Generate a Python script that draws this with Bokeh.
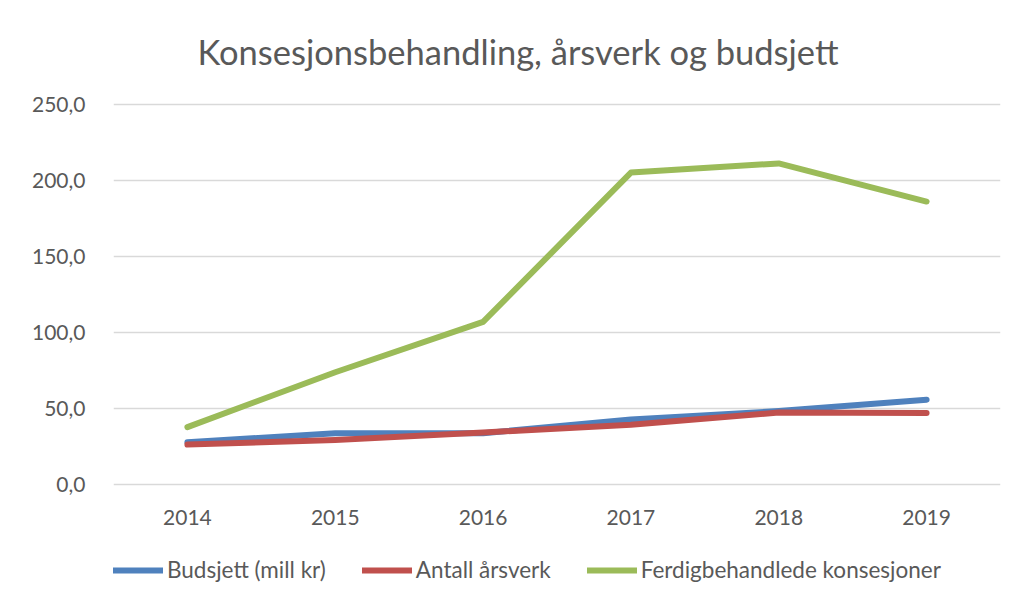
from bokeh.plotting import figure
from bokeh.models import FactorRange, Range1d, FixedTicker, Legend, LegendItem
from bokeh.embed import file_html
from bokeh.resources import INLINE

years = ["2014", "2015", "2016", "2017", "2018", "2019"]
budsjett = [28.0, 34.0, 34.0, 43.0, 48.5, 56.0]
arsverk = [26.5, 29.5, 34.5, 39.5, 47.5, 47.3]
ferdig = [38.0, 74.0, 107.0, 205.0, 211.0, 186.0]
y_ticks = [0, 50, 100, 150, 200, 250]
y_tick_labels = ["0,0", "50,0", "100,0", "150,0", "200,0", "250,0"]
series_names = ["Budsjett (mill kr)", "Antall årsverk", "Ferdigbehandlede konsesjoner"]
colors = ["#4F81BD", "#C0504D", "#9BBB59"]
title_text = "Konsesjonsbehandling, årsverk og budsjett"

FONT = "Lato"
GREY = "#595959"

# frame extends below the 0-line so that the legend can sit inside it
p = figure(width=1012, height=603, x_range=FactorRange(*years, range_padding=0),
           y_range=Range1d(-75.8, 251), output_backend="svg", toolbar_location=None,
           min_border_left=113, min_border_right=12, min_border_top=102, min_border_bottom=3)
p.title.text = title_text
p.title.align = "left"
p.title.offset = 84
p.title.vertical_align = "top"
p.title.standoff = 58
p.title.text_font = FONT
p.title.text_font_size = "34.5px"
p.title.text_font_style = "normal"
p.title.text_color = GREY
p.outline_line_color = None
p.background_fill_color = "white"
p.border_fill_color = "white"

p.yaxis.ticker = FixedTicker(ticks=y_ticks)
p.yaxis.major_label_overrides = {t: l for t, l in zip(y_ticks, y_tick_labels)}
for ax in (p.xaxis[0], p.yaxis[0]):
    ax.axis_line_color = None
    ax.major_tick_line_color = None
    ax.minor_tick_line_color = None
    ax.major_tick_out = 0
    ax.major_tick_in = 0
    ax.minor_tick_out = 0
    ax.major_label_text_font = FONT
    ax.major_label_text_font_size = "21px"
    ax.major_label_text_color = GREY
p.yaxis.major_label_standoff = 28
p.xaxis.major_label_standoff = 25
p.xaxis.fixed_location = 0

p.xgrid.grid_line_color = None
p.ygrid.grid_line_color = "#d9d9d9"
p.ygrid.grid_line_width = 1.5

renderers = []
for vals, c in zip([budsjett, arsverk, ferdig], colors):
    r = p.line(years, vals, line_color=c, line_width=6, line_cap="round", line_join="round")
    renderers.append(r)

legend = Legend(items=[LegendItem(label=n, renderers=[r]) for n, r in zip(series_names, renderers)],
                orientation="horizontal", location=(0, 17),
                glyph_width=50, glyph_height=24, label_height=24, label_standoff=4, spacing=36,
                padding=0, margin=0, border_line_color=None, background_fill_alpha=0,
                label_text_font=FONT, label_text_font_size="22.5px", label_text_color=GREY)
p.add_layout(legend)

open("out.html", "w").write(file_html(p, INLINE))
